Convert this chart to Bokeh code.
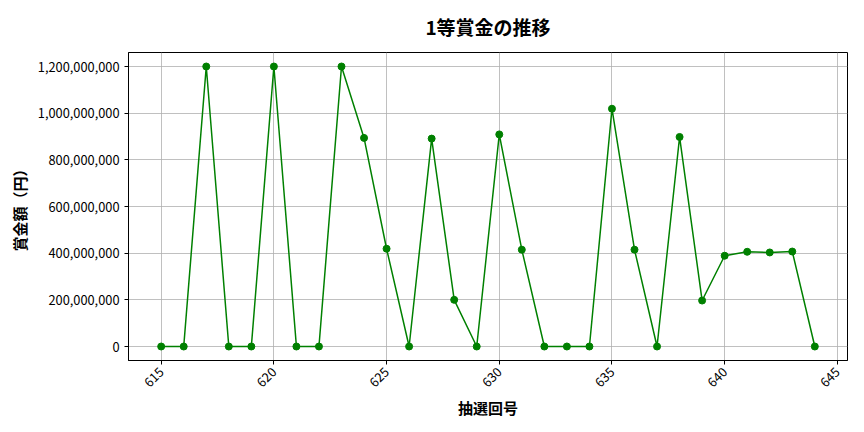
import math
from bokeh.plotting import figure
from bokeh.models import ColumnDataSource, NumeralTickFormatter, FixedTicker, Range1d
from bokeh.embed import file_html
from bokeh.resources import INLINE

draws = list(range(615, 645))
prizes = [
    0, 0, 1200000000, 0, 0, 1200000000, 0, 0, 1200000000, 894000000,
    419000000, 0, 891000000, 200000000, 0, 909000000, 415000000, 0, 0, 0,
    1019000000, 415000000, 0, 898000000, 197000000, 389000000, 406000000, 403000000, 407000000, 0,
]
x_ticks = [615, 620, 625, 630, 635, 640, 645]
y_ticks = [0, 200000000, 400000000, 600000000, 800000000, 1000000000, 1200000000]

FONT = "Noto Sans CJK JP"

src = ColumnDataSource(dict(x=draws, y=prizes))

p = figure(width=856, height=424, output_backend="svg", toolbar_location=None,
           title="1等賞金の推移",
           x_range=Range1d(613.55, 645.45), y_range=Range1d(-60000000, 1260000000),
           min_border_left=128, min_border_right=9, min_border_top=52, min_border_bottom=64)

p.line("x", "y", source=src, line_color="green", line_width=1.5)
p.scatter("x", "y", source=src, size=7, fill_color="green", line_color="green")

p.title.text_font = FONT
p.title.text_font_size = "19px"
p.title.text_font_style = "bold"
p.title.align = "center"
p.title.vertical_align = "top"
p.title.text_color = "black"
p.title.standoff = 21

p.outline_line_color = "black"
p.outline_line_width = 1
p.background_fill_color = "white"
p.border_fill_color = "white"

p.xaxis.ticker = FixedTicker(ticks=x_ticks)
p.yaxis.ticker = FixedTicker(ticks=y_ticks)
p.yaxis.formatter = NumeralTickFormatter(format="0,0")
p.xaxis.major_label_orientation = math.pi / 4

for ax in (p.xaxis, p.yaxis):
    ax.axis_line_color = "black"
    ax.major_tick_line_color = "black"
    ax.major_tick_in = 0
    ax.major_tick_out = 4
    ax.minor_tick_line_color = None
    ax.major_label_text_font = FONT
    ax.major_label_text_font_size = "12.8px"
    ax.major_label_text_color = "black"
    ax.axis_label_text_font = FONT
    ax.axis_label_text_font_size = "15px"
    ax.axis_label_text_font_style = "bold"
    ax.axis_label_text_color = "black"

p.xaxis.axis_label = "抽選回号"
p.xaxis.axis_label_standoff = 2
p.yaxis.axis_label = "賞金額（円）"

p.grid.grid_line_color = "#b0b0b0"
p.grid.grid_line_width = 0.8

open("out.html", "w").write(file_html(p, INLINE))
